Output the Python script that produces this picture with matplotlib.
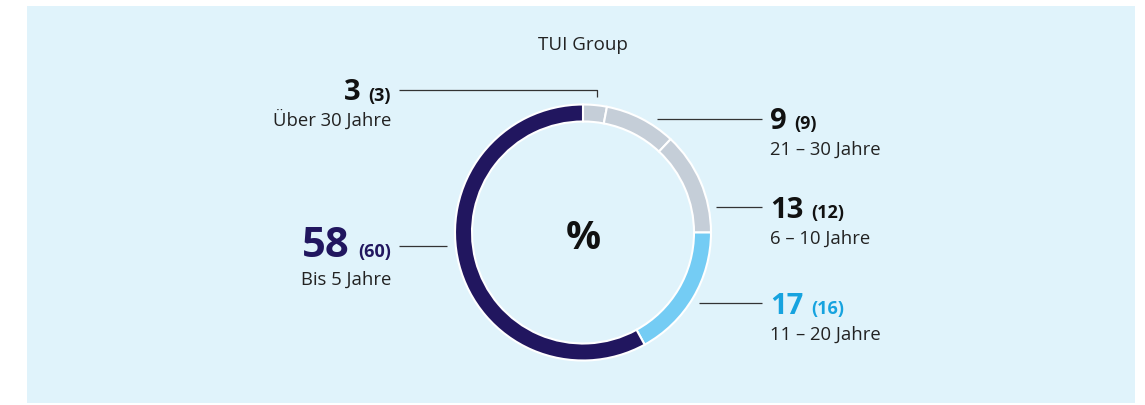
import matplotlib.pyplot as plt
from matplotlib.patches import Rectangle

# Data: share of employees by length of service (%), previous year in brackets
values = [3, 9, 13, 17, 58]
prev_values = [3, 9, 12, 16, 60]
labels = ['Über 30 Jahre', '21 – 30 Jahre', '6 – 10 Jahre', '11 – 20 Jahre', 'Bis 5 Jahre']
seg_colors = ['#c5ced8', '#c5ced8', '#c5ced8', '#74ccf4', '#21165f']
num_colors = ['#111111', '#111111', '#111111', '#16a3df', '#21165f']
title = 'TUI Group'
center_text = '%'

W, H = 1145, 405
FONT = 'Open Sans'

fig = plt.figure(figsize=(W / 100, H / 100), dpi=100)
ax = fig.add_axes([0, 0, 1, 1])

def Y(y):
    # pixel row (top-down) -> data y
    return H - y

# background panel
ax.add_patch(Rectangle((27, Y(403)), 1108, 397, facecolor='#e0f3fb', edgecolor='none', zorder=0))

# donut
ax.pie(values, colors=seg_colors, startangle=90, counterclock=False,
       radius=128, center=(583, Y(232.5)), frame=True,
       wedgeprops=dict(width=17, edgecolor='white', linewidth=1.5))

ax.set_xlim(0, W)
ax.set_ylim(0, H)
ax.set_aspect('equal')
ax.axis('off')

ax.text(583, Y(50), title, ha='center', va='baseline', fontsize=13.5, family=FONT, color='#222222')
ax.text(583, Y(249), center_text, ha='center', va='baseline', fontsize=28, fontweight='bold',
        family=FONT, color='#111111')

renderer = fig.canvas.get_renderer()

# label layout: (side, anchor x, number baseline, label baseline, big size)
layout = [
    ('left', 391, 100.5, 126, 21),
    ('right', 770, 129.3, 155, 21),
    ('right', 770, 218.3, 243.3, 21),
    ('right', 770, 314.3, 340, 21),
    ('left', 391, 257.3, 285, 30),
]
# leader lines (pixel coords)
leaders = [
    ([399, 597, 597], [90, 90, 97]),
    ([657, 762], [119, 119]),
    ([716, 762], [207, 207]),
    ([699, 762], [303, 303]),
    ([399, 447], [246, 246]),
]

for i, (side, x, nb, lb, big) in enumerate(layout):
    col = num_colors[i]
    big_txt = str(values[i])
    small_txt = '(' + str(prev_values[i]) + ')'
    if side == 'left':
        t = ax.text(x, Y(nb), small_txt, ha='right', va='baseline', fontsize=13,
                    fontweight='bold', family=FONT, color=col)
        w = t.get_window_extent(renderer).width
        ax.text(x - w - 8, Y(nb), big_txt, ha='right', va='baseline', fontsize=big,
                fontweight='bold', family=FONT, color=col)
        ax.text(x, Y(lb), labels[i], ha='right', va='baseline', fontsize=13.3,
                family=FONT, color='#222222')
    else:
        t = ax.text(x, Y(nb), big_txt, ha='left', va='baseline', fontsize=big,
                    fontweight='bold', family=FONT, color=col)
        w = t.get_window_extent(renderer).width
        ax.text(x + w + 8, Y(nb), small_txt, ha='left', va='baseline', fontsize=13,
                fontweight='bold', family=FONT, color=col)
        ax.text(x, Y(lb), labels[i], ha='left', va='baseline', fontsize=13.3,
                family=FONT, color='#222222')
    xs, ys = leaders[i]
    ax.plot(xs, [Y(v) for v in ys], color='#333333', lw=0.9, solid_capstyle='butt')

fig.savefig('out.png', dpi=100, facecolor='white')
